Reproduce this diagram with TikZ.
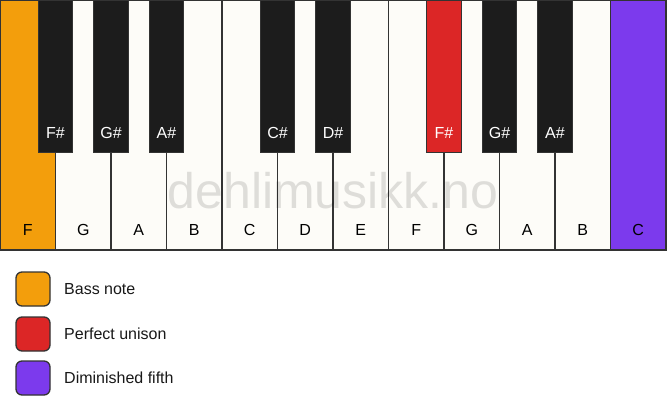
\documentclass[tikz,border=0pt]{standalone}
\usepackage{fontspec}
\setmainfont{Liberation Sans}
\definecolor{keywhite}{HTML}{FDFCF8}
\definecolor{keyblack}{HTML}{1C1C1C}
\definecolor{edge}{HTML}{333333}
\definecolor{bassorange}{HTML}{F39E0C}
\definecolor{unisonred}{HTML}{DC2626}
\definecolor{fifthpurple}{HTML}{7C3AED}
\tikzset{
  whitekey/.style={draw=edge, line width=1.3pt, fill=keywhite, minimum width=55.5pt, minimum height=250pt, inner sep=0pt, outer sep=0pt},
  blackkey/.style={draw=edge, line width=1pt, fill=keyblack, minimum width=34.5pt, minimum height=153pt, inner sep=0pt, outer sep=0pt},
  wlabel/.style={font=\fontsize{16}{19}\selectfont, text=black, anchor=center},
  blabel/.style={font=\fontsize{16}{19}\selectfont, text=white, anchor=center},
  legbox/.style={draw=edge, line width=1.3pt, rounded corners=6pt, minimum width=34pt, minimum height=34pt, inner sep=0pt},
  legtext/.style={font=\fontsize{16}{19}\selectfont, text=black!90, anchor=west, inner sep=0pt}
}
\begin{document}
\begin{tikzpicture}[x=1pt,y=-1pt]
\useasboundingbox (0,0) rectangle (667,417);
\fill[white] (0,0) rectangle (667,417);
% white keys
\foreach \n/\lab [count=\i from 0] in {wF/F,wG/G,wA/A,wB/B,wC/C,wD/D,wE/E,wF2/F,wG2/G,wA2/A,wB2/B,wC2/C}{
  \node[whitekey, anchor=north west] (\n) at ({\i*55.5},0) {};
}
\path[fill=bassorange, draw=edge, line width=1.3pt] (wF.north west) rectangle (wF.south east);
\path[fill=fifthpurple, draw=edge, line width=1.3pt] (wC2.north west) rectangle (wC2.south east);
\foreach \n/\lab in {wF/F,wG/G,wA/A,wB/B,wC/C,wD/D,wE/E,wF2/F,wG2/G,wA2/A,wB2/B,wC2/C}{
  \node[wlabel] (\n-l) at ([yshift=20pt]\n.south) {\lab};
}
% watermark
\node[font=\fontsize{50}{54}\selectfont, text=black, text opacity=0.12, anchor=base] (wm) at (333,208) {dehlimusikk.no};
% black keys
\foreach \n/\x in {bFs/55.5,bGs/111,bAs/166.5,bCs/277.5,bDs/333,bFs2/444,bGs2/499.5,bAs2/555}{
  \node[blackkey, anchor=north] (\n) at (\x,0) {};
}
\path[fill=unisonred, draw=edge, line width=1pt] (bFs2.north west) rectangle (bFs2.south east);
\foreach \n/\lab in {bFs/F\#,bGs/G\#,bAs/A\#,bCs/C\#,bDs/D\#,bFs2/F\#,bGs2/G\#,bAs2/A\#}{
  \node[blabel] (\n-l) at ([yshift=20pt]\n.south) {\lab};
}
% outer border
\draw[edge, line width=1.3pt] (wF.north west) rectangle (wC2.south east);
% legend
\node[legbox, fill=bassorange] (lg1) at (33,289) {};
\node[legbox, fill=unisonred] (lg2) at (33,334) {};
\node[legbox, fill=fifthpurple] (lg3) at (33,378) {};
\node[legtext] (lt1) at (64,289) {Bass note};
\node[legtext] (lt2) at (64,334) {Perfect unison};
\node[legtext] (lt3) at (64,378) {Diminished fifth};
\end{tikzpicture}
\end{document}
